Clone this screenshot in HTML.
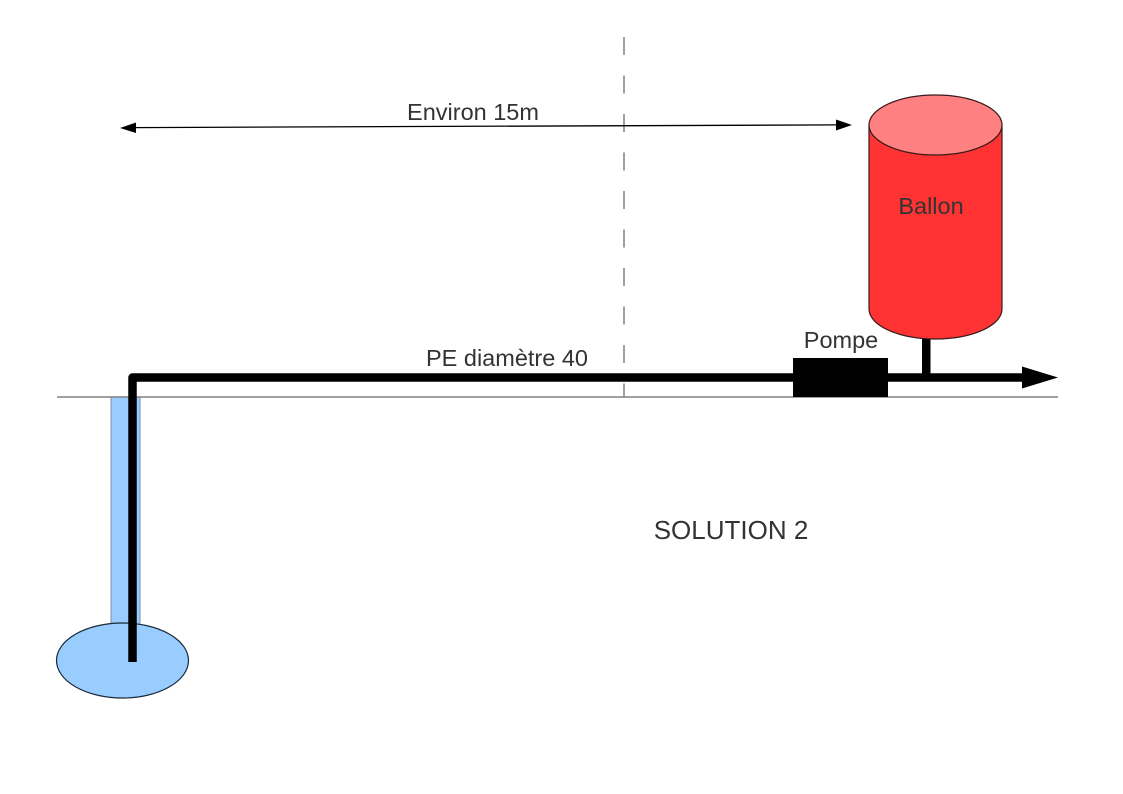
<!DOCTYPE html>
<html>
<head>
<meta charset="utf-8">
<style>
html,body{margin:0;padding:0;background:#fff;}
svg{display:block;}
text{font-family:"Liberation Sans",Arial,sans-serif;fill:#333;}
</style>
</head>
<body>
<svg width="1123" height="794" viewBox="0 0 1123 794" xmlns="http://www.w3.org/2000/svg">
  <rect width="1123" height="794" fill="#fff"/>

  <!-- dashed vertical line -->
  <line x1="624" y1="37" x2="624" y2="397" stroke="#808080" stroke-width="1.5" stroke-dasharray="18 20.5"/>

  <!-- dimension arrow -->
  <line x1="134" y1="127.6" x2="838" y2="124.9" stroke="#000" stroke-width="1.3"/>
  <polygon points="120,128 136,122.5 136,133" fill="#000"/>
  <polygon points="852,125 836,119.5 836,130.5" fill="#000"/>
  <text x="473" y="120" font-size="23.5" text-anchor="middle">Environ 15m</text>

  <!-- well -->
  <rect x="111" y="397" width="29" height="230" fill="#99ccff" stroke="#7a8fa8" stroke-width="1"/>
  <ellipse cx="122.5" cy="660.5" rx="66" ry="37.5" fill="#99ccff" stroke="#1a2a3a" stroke-width="1.2"/>

  <!-- ground line -->
  <line x1="57" y1="397" x2="1058" y2="397" stroke="#808080" stroke-width="1.5"/>

  <!-- pipe -->
  <path d="M132.5,662 L132.5,377.5 L1026,377.5" fill="none" stroke="#000" stroke-width="8.5" stroke-linejoin="round"/>
  <polygon points="1022,366.5 1058,377.5 1022,388.5" fill="#000"/>
  <text x="507" y="366" font-size="23.5" text-anchor="middle">PE diamètre 40</text>

  <!-- pump -->
  <rect x="793" y="358" width="95" height="39" fill="#000"/>
  <text x="841" y="348" font-size="23.5" text-anchor="middle">Pompe</text>

  <!-- connector from ballon -->
  <rect x="922" y="330" width="8.5" height="48" fill="#000"/>

  <!-- ballon cylinder -->
  <path d="M869,125 L869,309 A66.5,30 0 0 0 1002,309 L1002,125 Z" fill="#ff3333" stroke="#3a1a1a" stroke-width="1.2"/>
  <ellipse cx="935.5" cy="125" rx="66.5" ry="30" fill="#ff8080" stroke="#3a1a1a" stroke-width="1.2"/>
  <text x="931" y="214" font-size="23.5" text-anchor="middle">Ballon</text>

  <!-- title -->
  <text x="731" y="539" font-size="26" text-anchor="middle">SOLUTION 2</text>
</svg>
</body>
</html>
